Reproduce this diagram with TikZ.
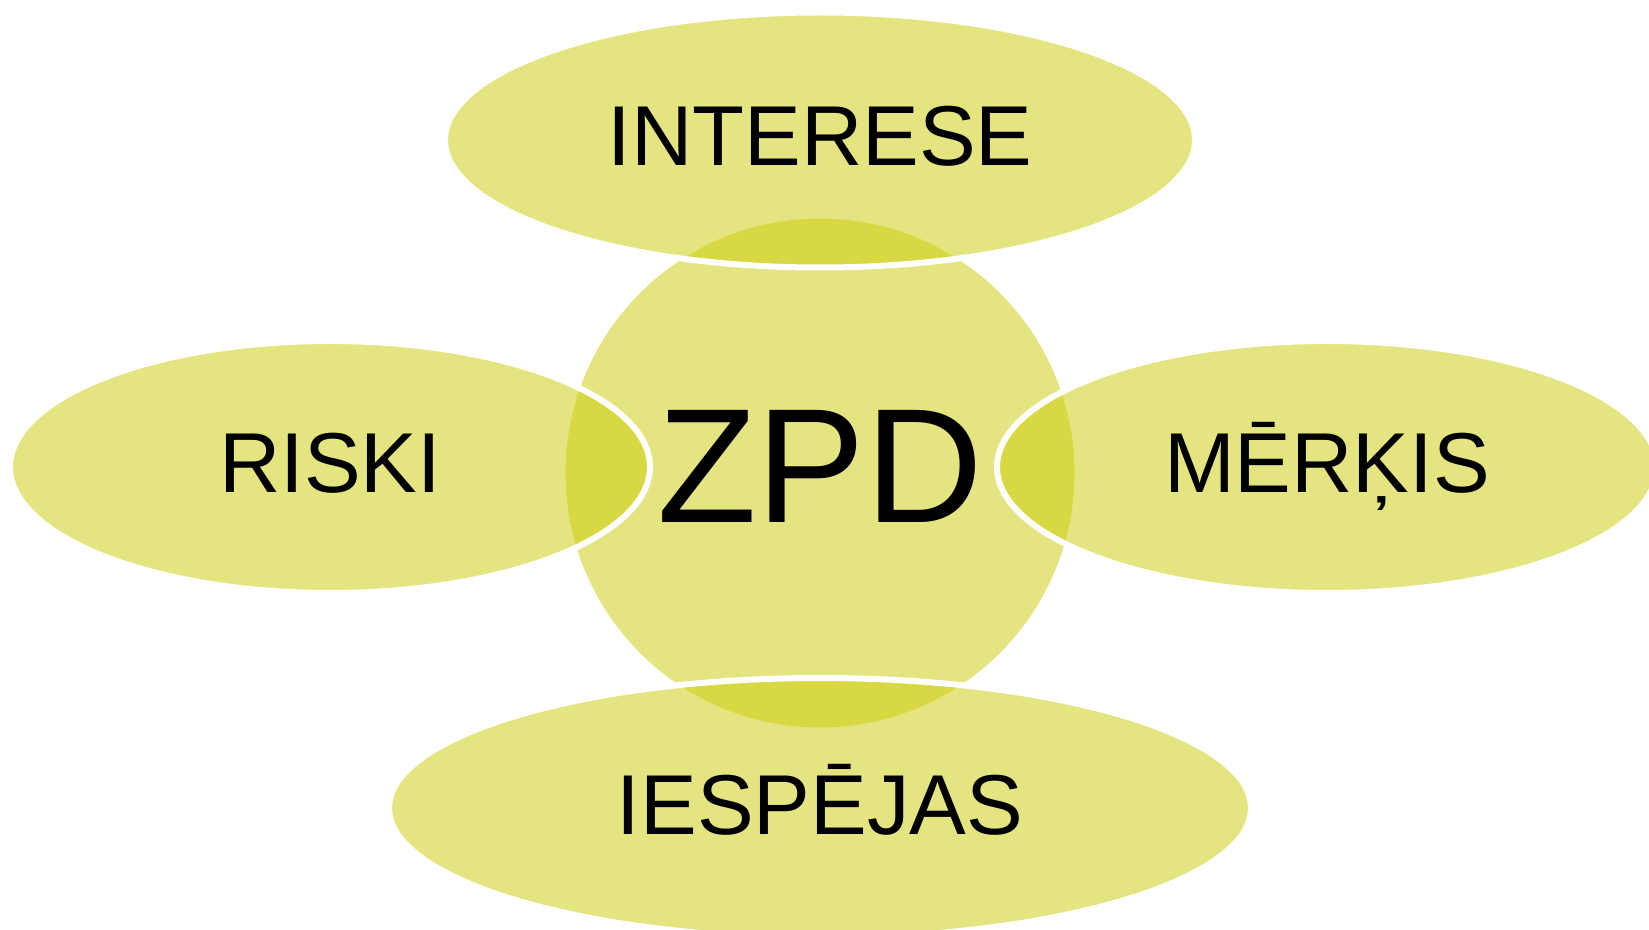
\documentclass[tikz,border=0pt]{standalone}
\usepackage{fontspec}
\setmainfont{Liberation Sans}
\usetikzlibrary{shapes.geometric}
\definecolor{petalgreen}{RGB}{203,205,11}

\begin{document}
\begin{tikzpicture}[x=0.5pt,y=-0.5pt,
        petal/.style={ellipse,fill=petalgreen,fill opacity=0.52,text opacity=1,
            draw=white,draw opacity=1,line width=3pt,inner sep=0pt,
            text height=31pt,text depth=5pt,font=\fontsize{42.5}{50}\selectfont}]
        \useasboundingbox (0,0) rectangle (1649,930);
        \node[circle,fill=petalgreen,fill opacity=0.52,text opacity=1,inner sep=0pt,
            minimum size=254.5pt,text height=58.5pt,text depth=9pt,
            font=\fontsize{81.5}{90}\selectfont] (0) at (820,473) {ZPD};
        \node[petal,minimum width=375pt,minimum height=127.5pt] (1) at (820,140) {INTERESE};
        \node[petal,minimum width=320pt,minimum height=126pt] (2) at (330,467) {RISKI};
        \node[petal,minimum width=330pt,minimum height=126pt] (3) at (1327,467) {MĒRĶIS};
        \node[petal,minimum width=431pt,minimum height=130pt] (4) at (820,808) {IESPĒJAS};
    \end{tikzpicture}
\end{document}
